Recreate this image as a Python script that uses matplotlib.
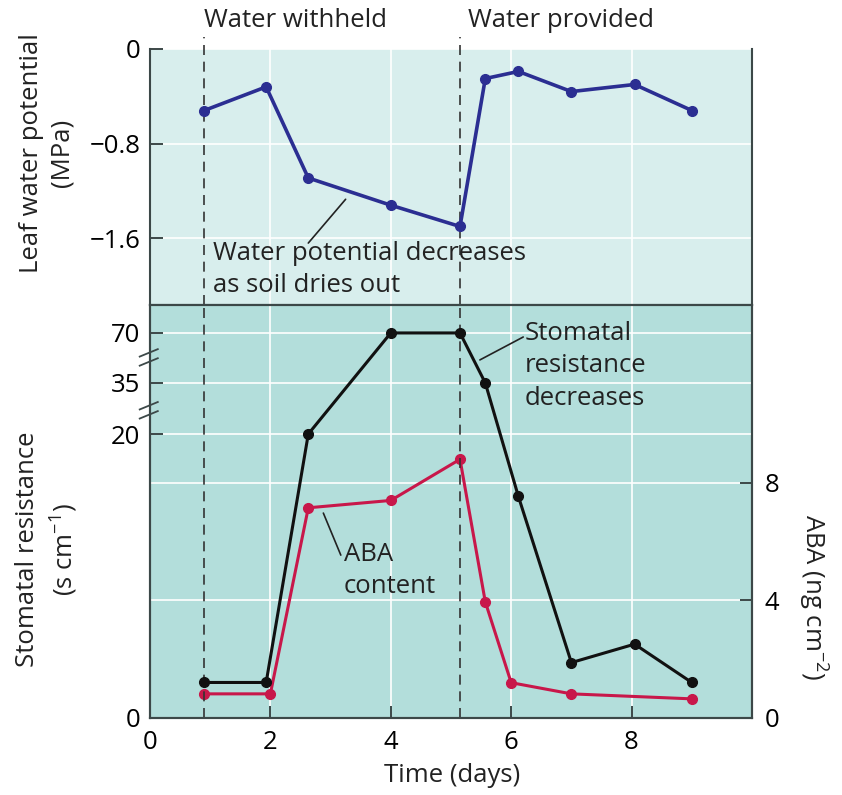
import numpy as np
import matplotlib
matplotlib.use('Agg')
import matplotlib.pyplot as plt

plt.rcParams['font.family'] = ['Open Sans', 'DejaVu Sans']
plt.rcParams['mathtext.fontset'] = 'custom'
plt.rcParams['mathtext.rm'] = 'Open Sans'
plt.rcParams['font.size'] = 18.5

# leaf water potential (MPa)
wp_days = [0.9, 1.93, 2.63, 4.0, 5.15, 5.57, 6.12, 7.0, 8.05, 9.0]
wp_values = [-0.52, -0.32, -1.09, -1.32, -1.50, -0.25, -0.19, -0.36, -0.30, -0.52]

# stomatal resistance (s cm-1)
sr_days = [0.9, 1.93, 2.63, 4.0, 5.15, 5.57, 6.12, 7.0, 8.05, 9.0]
sr_values = [2.5, 2.5, 20, 70, 70, 35, 15.6, 3.9, 5.2, 2.5]

# ABA content (ng cm-2)
aba_days = [0.9, 2.0, 2.63, 4.0, 5.15, 5.57, 6.0, 7.0, 9.0]
aba_values = [0.82, 0.82, 7.15, 7.4, 8.8, 3.95, 1.2, 0.82, 0.65]

withheld_day = 0.9
provided_day = 5.15

x_ticks = [0, 2, 4, 6, 8]
wp_ticks = [0, -0.8, -1.6]
sr_ticks = [0, 20, 35, 70]
aba_ticks = [0, 4, 8]

top_bg = '#d8eeed'
bot_bg = '#b3dedb'
spine_col = '#3c4848'
txt_col = '#222222'
blue = '#2b2e92'
red = '#c8174a'


def fwd(r):
    # broken axis: linear up to 20, then compressed 20-35 and 35-70
    r = np.asarray(r, dtype=float)
    return np.where(r <= 20, r,
                    np.where(r <= 35, 20 + (r - 20) * 3.6 / 15,
                             23.6 + (r - 35) * 3.52 / 35))


def inv(u):
    u = np.asarray(u, dtype=float)
    return np.where(u <= 20, u,
                    np.where(u <= 23.6, 20 + (u - 20) * 15 / 3.6,
                             35 + (u - 23.6) * 35 / 3.52))


fig = plt.figure(figsize=(8.42, 7.95), dpi=100)
ax_top = fig.add_axes([0.1781, 0.6164, 0.7150, 0.3220])
ax_aba = fig.add_axes([0.1781, 0.0969, 0.7150, 0.5195])
ax_sr = ax_aba.twinx()
# left axis on top of the twin so black line sits over the ABA grid
ax_sr.yaxis.tick_left()
ax_aba.yaxis.tick_right()
ax_sr.set_zorder(ax_aba.get_zorder() + 1)
ax_sr.patch.set_visible(False)

# ---------- top panel ----------
ax_top.set_facecolor(top_bg)
ax_top.set_xlim(0, 10)
ax_top.set_ylim(-2.163, 0)
ax_top.set_xticks(x_ticks)
ax_top.set_yticks(wp_ticks)
ax_top.set_yticklabels(['0', '\u22120.8', '\u22121.6'])
ax_top.grid(True, color='white', lw=1.2)
ax_top.set_axisbelow(True)
ax_top.tick_params(axis='x', length=0, labelbottom=False)
ax_top.tick_params(axis='y', direction='in', length=9, width=1.4, color=spine_col, pad=7)
ax_top.spines['top'].set_visible(False)
for s in ['left', 'right', 'bottom']:
    ax_top.spines[s].set_color(spine_col)
    ax_top.spines[s].set_linewidth(1.5)

ax_top.plot(wp_days, wp_values, color=blue, lw=2.6, marker='o', ms=7, zorder=3)

for d in [withheld_day, provided_day]:
    ax_top.axvline(d, ymin=0, ymax=1.045, color='#333333', lw=1.2,
                   ls=(0, (6, 4)), clip_on=False, zorder=2)

xt = ax_top.get_xaxis_transform()
ax_top.text(withheld_day, 1.084, 'Water withheld', transform=xt,
            ha='left', va='baseline', color=txt_col)
ax_top.text(5.28, 1.084, 'Water provided', transform=xt,
            ha='left', va='baseline', color=txt_col)

ax_top.annotate('', xy=(3.25, -1.27), xytext=(2.63, -1.64),
                arrowprops=dict(arrowstyle='-', color=txt_col, lw=1.2,
                                shrinkA=0, shrinkB=0))
ax_top.text(1.05, -1.62, 'Water potential decreases\nas soil dries out',
            ha='left', va='top', linespacing=1.38, color=txt_col)

# ---------- bottom panel ----------
ax_aba.set_facecolor(bot_bg)
ax_aba.set_xlim(0, 10)
ax_aba.set_ylim(0, 14.05)
ax_aba.set_xticks(x_ticks)
ax_aba.set_yticks(aba_ticks)
ax_aba.grid(True, color='white', lw=1.2)
ax_aba.set_axisbelow(True)
ax_aba.tick_params(direction='in', length=9, width=1.4, color=spine_col)
ax_aba.tick_params(axis='y', pad=9)
ax_aba.tick_params(axis='x', pad=9)
for s in ax_aba.spines.values():
    s.set_color(spine_col)
    s.set_linewidth(1.5)

ax_sr.set_yscale('function', functions=(fwd, inv))
ax_sr.set_ylim(0, 89.6)
ax_sr.set_yticks(sr_ticks)
ax_sr.set_yticklabels([str(t) for t in sr_ticks])
ax_sr.yaxis.grid(True, color='white', lw=1.2)
ax_sr.set_axisbelow(True)
ax_sr.tick_params(axis='y', direction='in', length=9, width=1.4, color=spine_col, pad=7)
for s in ax_sr.spines.values():
    s.set_color(spine_col)
    s.set_linewidth(1.5)

ax_aba.plot(aba_days, aba_values, color=red, lw=2.2, marker='o', ms=7, zorder=3)
ax_sr.plot(sr_days, sr_values, color='#111111', lw=2.2, marker='o', ms=7, zorder=3)

for d in [withheld_day, provided_day]:
    ax_sr.axvline(d, color='#333333', lw=1.2, ls=(0, (6, 4)), zorder=2)

# axis break marks on left spine
for yb in [0.884, 0.756]:
    for off in [0.0, -0.022]:
        ax_sr.plot([-0.017, 0.013], [yb + off - 0.009, yb + off + 0.009],
                   transform=ax_sr.transAxes, color=spine_col, lw=1.3,
                   clip_on=False, zorder=5)

# annotations drawn on the front axes, placed in ABA units
aba_tr = ax_aba.transData
ax_sr.annotate('', xy=(6.2, 12.96), xytext=(5.48, 12.18),
               xycoords=aba_tr, textcoords=aba_tr,
               arrowprops=dict(arrowstyle='-', color=txt_col, lw=1.2,
                               shrinkA=0, shrinkB=0))
ax_sr.text(6.22, 13.5, 'Stomatal\nresistance\ndecreases', transform=aba_tr,
           ha='left', va='top', linespacing=1.38, color=txt_col, zorder=6)

ax_sr.annotate('', xy=(3.17, 5.54), xytext=(2.88, 6.97),
               xycoords=aba_tr, textcoords=aba_tr,
               arrowprops=dict(arrowstyle='-', color=txt_col, lw=1.2,
                               shrinkA=0, shrinkB=0))
ax_sr.text(3.22, 6.0, 'ABA\ncontent', transform=aba_tr,
           ha='left', va='top', linespacing=1.38, color=txt_col, zorder=6)

# ---------- axis labels ----------
fig.text(47 / 842, 1 - 153 / 795, 'Leaf water potential\n(MPa)', rotation=90,
         ha='center', va='center', multialignment='center', linespacing=1.3,
         color=txt_col)
fig.text(47 / 842, 1 - 549 / 795, 'Stomatal resistance\n(s cm$^{-1}$)', rotation=90,
         ha='center', va='center', multialignment='center', linespacing=1.3,
         color=txt_col)
fig.text(814 / 842, 1 - 597 / 795, 'ABA (ng cm$^{-2}$)', rotation=270,
         ha='center', va='center', color=txt_col)
fig.text(452 / 842, 1 - 775 / 795, 'Time (days)', ha='center', va='center',
         color=txt_col)

fig.savefig('out.png', dpi=100)
